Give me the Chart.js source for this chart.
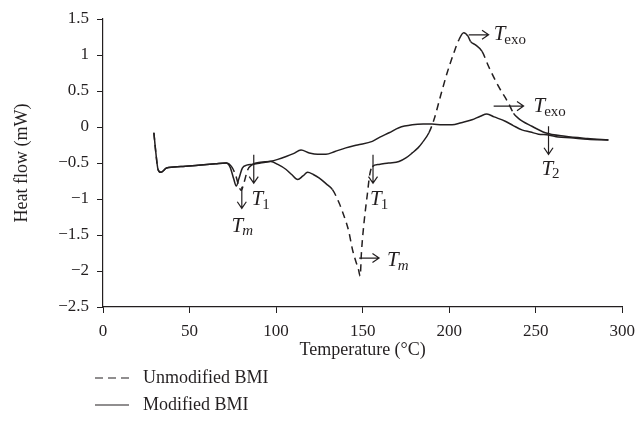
<!DOCTYPE html>
<html>
<head>
<meta charset="utf-8">
<script src="https://cdn.jsdelivr.net/npm/chart.js@4.4.0/dist/chart.umd.min.js"></script>
<style>
  html, body { margin: 0; padding: 0; background: #fff; }
</style>
</head>
<body>
<canvas id="dsc" width="643" height="440"></canvas>
<script>
// DSC traces --- START
var seriesNames = ['Unmodified BMI', 'Modified BMI'];

var unmodTemp = [29.4, 30.5, 31.8, 33.4, 36.7, 45, 55, 65, 71.2, 74, 76.5, 78.5, 79.8, 81.5, 83.5, 86.4,
  91, 97, 101, 105.8, 109, 112.5, 115.5, 118.2, 121.5, 125, 129, 132.6, 136.5, 139.3, 142, 144.1,
  146, 147.5, 148.6, 149.3, 150.8, 152.8, 154.1, 155.6, 159.5, 165, 171, 175, 178.7, 182, 184.4,
  188.3, 191.2, 195, 198.8, 202.7, 205.6, 208.4, 210.9, 212.3, 215.2, 219, 222.8, 228.6, 234.3,
  237.2, 240, 247.8, 255.5, 267, 280, 292];
var unmodFlow = [-0.08, -0.35, -0.59, -0.63, -0.57, -0.55, -0.53, -0.51, -0.5, -0.54, -0.66, -0.82, -0.88, -0.77, -0.6, -0.52,
  -0.49, -0.48, -0.52, -0.59, -0.66, -0.73, -0.68, -0.63, -0.66, -0.71, -0.79, -0.87, -1.06, -1.24, -1.45, -1.70,
  -1.86, -1.97, -2.07, -1.75, -1.33, -0.92, -0.66, -0.55, -0.52, -0.50, -0.48, -0.43, -0.36, -0.29, -0.22,
  -0.08, 0.10, 0.43, 0.75, 1.03, 1.21, 1.31, 1.26, 1.19, 1.14, 1.05, 0.84, 0.56, 0.33,
  0.19, 0.12, 0.01, -0.08, -0.13, -0.16, -0.18];

var modTemp = [29.4, 30.5, 31.8, 33.4, 36.7, 45, 55, 65, 71.2, 73.5, 75.5, 77, 78.5, 80.5, 83, 86.4,
  91, 96, 101, 105.8, 110, 114.4, 119.2, 124, 128.8, 134, 140.3, 147, 155.6, 160, 165.3, 171,
  178.7, 185, 190, 196, 201.7, 207, 213.2, 218, 221.8, 226, 232.4, 237, 242, 247, 251.6, 257.4,
  263, 270, 280, 292];
var modFlow = [-0.08, -0.35, -0.59, -0.63, -0.57, -0.55, -0.53, -0.51, -0.5, -0.56, -0.72, -0.82, -0.72, -0.57, -0.53, -0.52,
  -0.5, -0.48, -0.45, -0.41, -0.37, -0.32, -0.36, -0.38, -0.38, -0.34, -0.29, -0.25, -0.2, -0.14, -0.08, -0.01,
  0.03, 0.04, 0.04, 0.03, 0.03, 0.06, 0.10, 0.15, 0.18, 0.14, 0.08, 0.02, -0.04, -0.07, -0.10, -0.11,
  -0.14, -0.15, -0.17, -0.18];

// transition markers: arrow from -> to, label "T" + subscript at "at" (all in data units)
var marks = [
  { from: [80.2, -0.83], to: [80.2, -1.13], at: [74.3, -1.38], sub: 'm', italic: true },
  { from: [87.1, -0.385], to: [87.1, -0.78], at: [85.8, -1.01], sub: '1' },
  { from: [156, -0.385], to: [156, -0.78], at: [154.3, -1.01], sub: '1' },
  { from: [148, -1.82], to: [159.5, -1.82], at: [164.1, -1.86], sub: 'm', italic: true },
  { from: [211.3, 1.28], to: [222.8, 1.28], at: [225.7, 1.28], sub: 'exo' },
  { from: [225.7, 0.29], to: [243, 0.29], at: [248.7, 0.28], sub: 'exo' },
  { from: [257.4, 0.01], to: [257.4, -0.38], at: [253.3, -0.59], sub: '2' }
];
// DSC traces --- END

var ink = '#231f20';
var serif = '"Liberation Serif", "DejaVu Serif", serif';

Chart.defaults.font.family = serif;
Chart.defaults.font.size = 17;
Chart.defaults.color = ink;

function pts(xs, ys) {
  return xs.map(function (x, i) { return { x: x, y: ys[i] }; });
}

// the scanned dashed trace only shows its gaps where it is steep
function steepDash(ctx) {
  var dx = Math.abs(ctx.p1.x - ctx.p0.x), dy = Math.abs(ctx.p1.y - ctx.p0.y);
  return dy > 1.6 * dx ? [7, 5] : undefined;
}

var notes = {
  id: 'notes',
  afterDatasetsDraw: function (chart) {
    var c = chart.ctx, sx = chart.scales.x, sy = chart.scales.y;
    c.save();
    c.strokeStyle = ink;
    c.fillStyle = ink;
    c.lineWidth = 1.2;
    marks.forEach(function (m) {
      var x0 = sx.getPixelForValue(m.from[0]), y0 = sy.getPixelForValue(m.from[1]);
      var x1 = sx.getPixelForValue(m.to[0]), y1 = sy.getPixelForValue(m.to[1]);
      var a = Math.atan2(y1 - y0, x1 - x0), h = 8;
      c.beginPath();
      c.moveTo(x0, y0);
      c.lineTo(x1, y1);
      c.moveTo(x1 - h * Math.cos(a - 0.6), y1 - h * Math.sin(a - 0.6));
      c.lineTo(x1, y1);
      c.lineTo(x1 - h * Math.cos(a + 0.6), y1 - h * Math.sin(a + 0.6));
      c.stroke();

      var lx = sx.getPixelForValue(m.at[0]), ly = sy.getPixelForValue(m.at[1]);
      c.textAlign = 'left';
      c.textBaseline = 'middle';
      c.font = 'italic 21px ' + serif;
      c.fillText('T', lx, ly);
      var w = c.measureText('T').width;
      c.font = (m.italic ? 'italic ' : '') + '15px ' + serif;
      c.fillText(m.sub, lx + w - 1, ly + 5);
    });
    c.restore();
  }
};

// legend stacked under the axis title
var keyBox = {
  id: 'keyBox',
  afterDraw: function (chart) {
    var c = chart.ctx, top = chart.chartArea.bottom;
    c.save();
    c.strokeStyle = ink;
    c.fillStyle = ink;
    c.lineWidth = 1.2;
    c.font = '18px ' + serif;
    c.textAlign = 'left';
    c.textBaseline = 'middle';
    chart.data.datasets.forEach(function (ds, i) {
      var y = top + 71 + i * 27;
      c.setLineDash(ds.keyDash || []);
      c.beginPath();
      c.moveTo(95, y);
      c.lineTo(129, y);
      c.stroke();
      c.setLineDash([]);
      c.fillText(ds.label, 143, y);
    });
    c.restore();
  }
};

var ctx = document.getElementById('dsc');
var dscChart = new Chart(ctx, {
  type: 'line',
  data: {
    datasets: [
      {
        label: seriesNames[0],
        data: pts(unmodTemp, unmodFlow),
        borderColor: ink,
        borderWidth: 1.5,
        pointRadius: 0,
        cubicInterpolationMode: 'monotone',
        keyDash: [8, 5],
        segment: { borderDash: steepDash }
      },
      {
        label: seriesNames[1],
        data: pts(modTemp, modFlow),
        borderColor: ink,
        borderWidth: 1.5,
        pointRadius: 0,
        cubicInterpolationMode: 'monotone'
      }
    ]
  },
  options: {
    responsive: false,
    animation: false,
    layout: { padding: { left: 8, right: 17, top: 19, bottom: 75 } },
    plugins: {
      legend: { display: false },
      tooltip: { enabled: false }
    },
    scales: {
      x: {
        type: 'linear',
        min: 0,
        max: 300,
        afterFit: function (s) { s.height = 58; },
        ticks: { stepSize: 50, padding: 8, maxRotation: 0 },
        grid: { display: true, drawOnChartArea: false, drawTicks: true, tickLength: 6, color: ink },
        border: { display: true, color: ink, width: 1.2 },
        title: { display: true, text: 'Temperature (\u00b0C)', font: { size: 18 }, padding: { top: 4, bottom: 4 } }
      },
      y: {
        min: -2.5,
        max: 1.5,
        afterFit: function (s) { s.width = 95; },
        ticks: {
          stepSize: 0.5,
          padding: 8,
          callback: function (v) { return v < 0 ? '\u2212' + Math.abs(v) : String(v); }
        },
        grid: { display: true, drawOnChartArea: false, drawTicks: true, tickLength: 6, color: ink },
        border: { display: true, color: ink, width: 1.2 },
        title: { display: true, text: 'Heat flow (mW)', font: { size: 18 }, padding: { top: 3, bottom: 3 } }
      }
    }
  },
  plugins: [notes, keyBox]
});
</script>
</body>
</html>
